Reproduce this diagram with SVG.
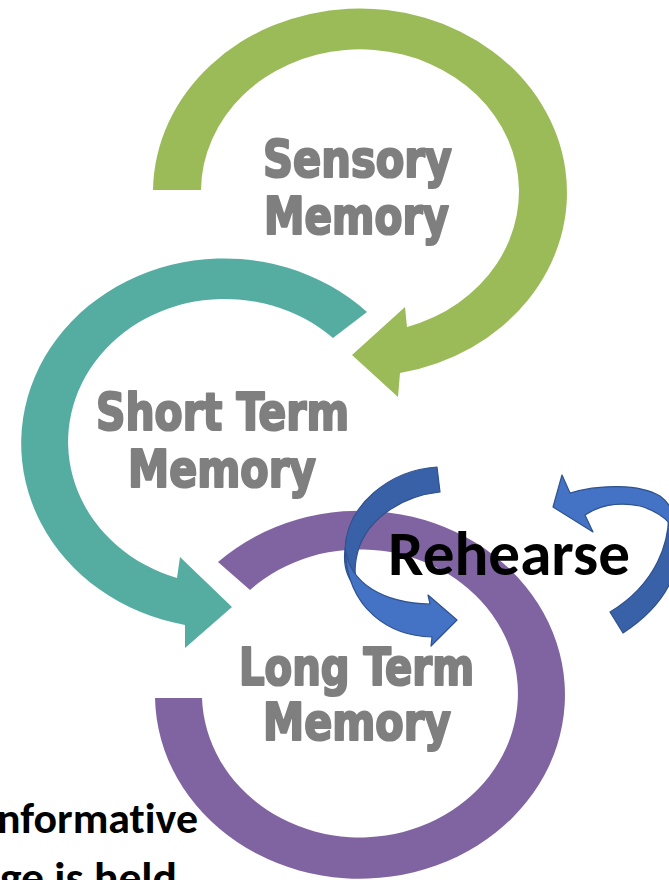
<svg xmlns="http://www.w3.org/2000/svg" width="669" height="880" viewBox="0 0 669 880">
  <style>
    .lbl { font-family: "DejaVu Sans Condensed", "Liberation Sans Narrow", "DejaVu Sans", sans-serif; font-weight: bold; font-size: 52px; fill: #7f7f7f; stroke: #7f7f7f; stroke-width: 2.2; stroke-linejoin: round; }
    .blk { font-family: Carlito, Lato, "Liberation Sans", sans-serif; font-weight: bold; fill: #000000; font-variant-ligatures: none; }
    .green { fill: #9bbb59; }
    .teal { fill: #55ada2; }
    .purple { fill: #8064a2; }
    .bl-light { fill: #4472c4; stroke: #2f528f; stroke-width: 1.2; stroke-linejoin: round; }
    .bl-dark { fill: #3961a8; stroke: #2f528f; stroke-width: 1.2; stroke-linejoin: round; }
  </style>
  <rect x="0" y="0" width="669" height="880" fill="#ffffff"/>

  <g id="short-term-memory">
    <path class="teal" d="M367,312 A203,185 0 1 0 185,625 L185,648 L232,607 L180,557 L177,578 A157,143 0 1 1 333,338 Z"/>
    <text class="lbl" x="96" y="430" textLength="253" lengthAdjust="spacingAndGlyphs">Short Term</text>
    <text class="lbl" x="128" y="487" textLength="188" lengthAdjust="spacingAndGlyphs">Memory</text>
  </g>

  <g id="sensory-memory">
    <path class="green" d="M153,190 A207,184 0 1 1 400,373 L398,397 L352,355 L405,307 L407,327 A159,142 0 1 0 201,190 Z"/>
    <text class="lbl" x="263" y="177" textLength="189" lengthAdjust="spacingAndGlyphs">Sensory</text>
    <text class="lbl" x="264" y="234" textLength="185" lengthAdjust="spacingAndGlyphs">Memory</text>
  </g>

  <g id="long-term-memory">
    <path class="purple" d="M218,562 A205,184 0 1 1 155,698 L202,698 A158,144 0 1 0 250,590 Z"/>
    <text class="lbl" x="239" y="685" textLength="235" lengthAdjust="spacingAndGlyphs">Long Term</text>
    <text class="lbl" x="263" y="740" textLength="188" lengthAdjust="spacingAndGlyphs">Memory</text>
  </g>

  <g id="connectors">
    <path class="bl-dark" d="M437,467 L440,492 C402,496 362,520 356,560 C354,572 355,580 358,590 C348,580 343,566 345,550 C346,505 390,470 437,467 Z"/>
    <path class="bl-light" d="M345,548 C350,585 385,603 430,604 L428,595 L457,620 L431,646 L432,637 C390,636 347,610 345,548 Z"/>
    <path class="bl-dark" d="M610,612 L623,633 C652,614 676,588 679,550 C680,532 676,516 668,505 C672,542 655,585 610,612 Z"/>
    <path class="bl-light" d="M570,493 C600,484 640,484 660,496 C672,505 678,520 679,537 C672,522 660,512 640,506 C620,502 600,505 585,515 L593,532 L553,507 L562,475 Z"/>
  </g>

  <g id="rehearse">
    <text class="blk" x="388" y="575" font-size="62" textLength="242" lengthAdjust="spacingAndGlyphs">Rehearse</text>
  </g>

  <g id="caption">
    <text class="blk" x="-3" y="833" font-size="43" textLength="201" lengthAdjust="spacingAndGlyphs">nformative</text>
    <text class="blk" x="0" y="892" font-size="43" textLength="177" lengthAdjust="spacingAndGlyphs">ge is held</text>
  </g>
</svg>
